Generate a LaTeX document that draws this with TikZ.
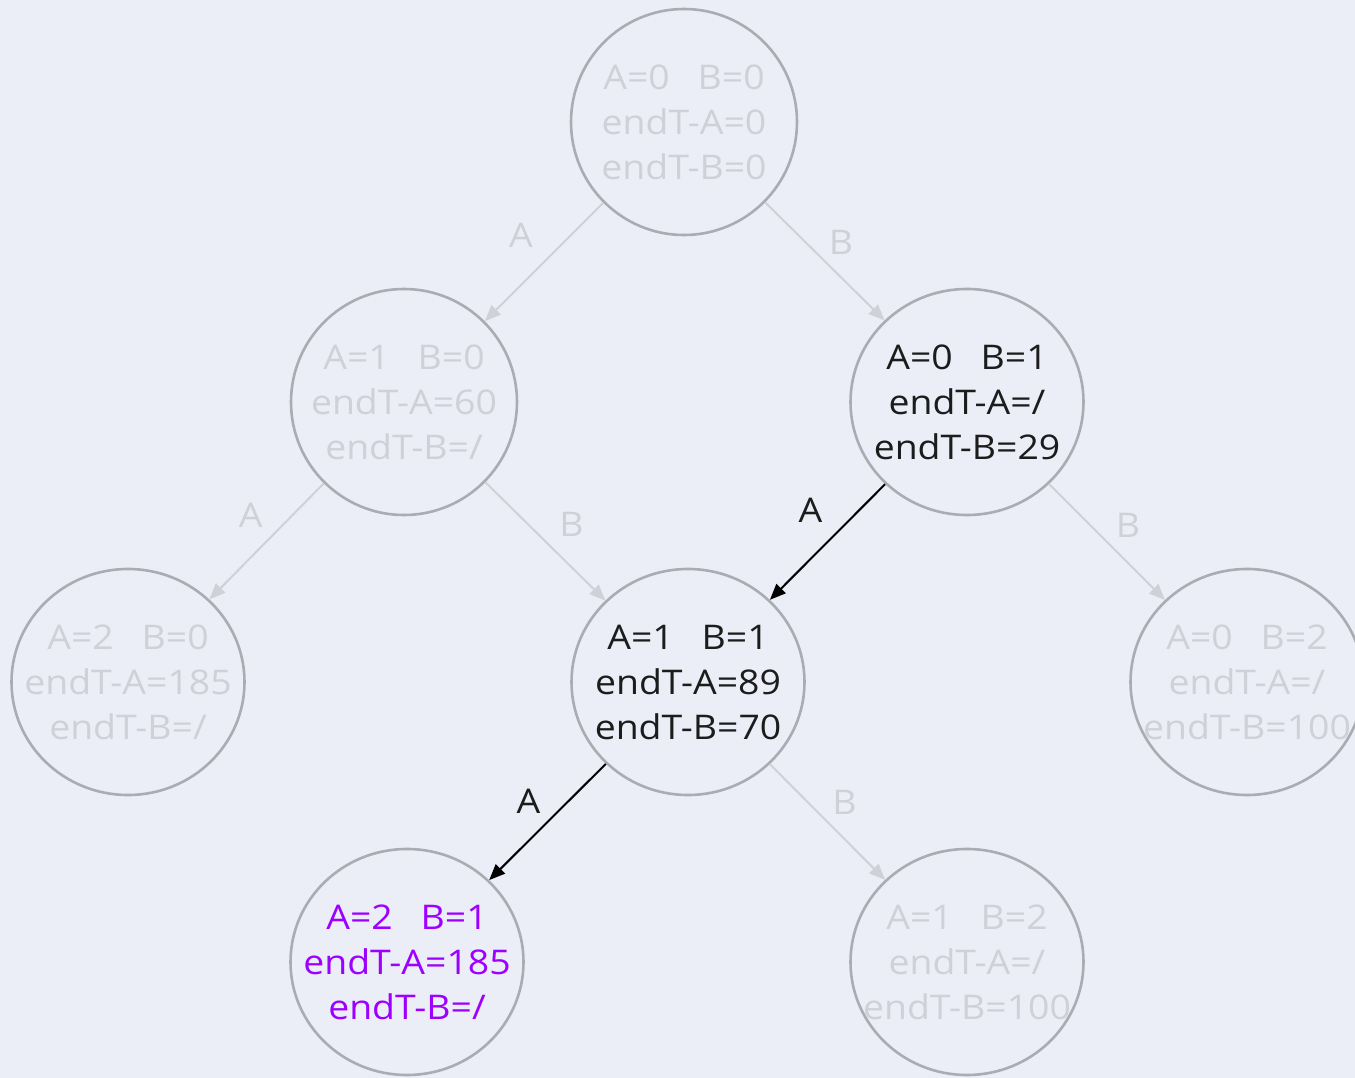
\documentclass[tikz,border=0pt]{standalone}
\usepackage{fontspec}
\setmainfont{Open Sans}[FakeStretch=1.1]
\usetikzlibrary{arrows.meta,shapes.geometric}
\definecolor{bg}{HTML}{EBEEF6}
\definecolor{ring}{HTML}{AAACB4}
\definecolor{faded}{HTML}{D0D1D8}
\definecolor{ink}{HTML}{1C1C1C}
\definecolor{goal}{HTML}{9D00FF}
\newcommand{\gapAB}{\hspace{0.82em}}
\begin{document}
\begin{tikzpicture}[x=1pt,y=-1pt,
  % the ring has a fixed size; its three lines sit in a centred label
  state/.style={ellipse, draw=ring, line width=2.6pt, inner sep=0pt,
    minimum height=226pt, minimum width=#1},
  state/.default=233pt,
  statetext/.style={inner sep=0pt, align=center,
    font=\fontsize{34}{45}\selectfont},
  dim/.style={label={[statetext, text=faded]center:{#1}}},
  live/.style={label={[statetext, text=ink]center:{#1}}},
  found/.style={label={[statetext, text=goal]center:{#1}}},
  fadedge/.style={draw=faded, line width=2pt, -{Triangle[length=16pt,width=13pt]}},
  liveedge/.style={draw=black, line width=2pt, -{Triangle[length=16pt,width=13pt]}},
  lbl/.style={midway, inner sep=0pt, font=\fontsize{34}{40}\selectfont},
]
\fill[bg] (0,0) rectangle (1355,1078);
\useasboundingbox (0,0) rectangle (1355,1078);

% states
\node[state=226pt, dim={A=0\gapAB B=0\\endT-A=0\\endT-B=0}]   (r)  at (684,122) {};
\node[state=226pt, dim={A=1\gapAB B=0\\endT-A=60\\endT-B=/}]  (l1) at (404,402) {};
\node[state, live={A=0\gapAB B=1\\endT-A=/\\endT-B=29}]       (r1) at (967,402) {};
\node[state, dim={A=2\gapAB B=0\\endT-A=185\\endT-B=/}]       (l2) at (128,682) {};
\node[state, live={A=1\gapAB B=1\\endT-A=89\\endT-B=70}]      (m2) at (688,682) {};
\node[state, dim={A=0\gapAB B=2\\endT-A=/\\endT-B=100}]       (r2) at (1247,682) {};
\node[state, found={A=2\gapAB B=1\\endT-A=185\\endT-B=/}]     (l3) at (407,962) {};
\node[state, dim={A=1\gapAB B=2\\endT-A=/\\endT-B=100}]       (r3) at (967,962) {};

% transitions
\draw[fadedge] (r) -- node[lbl, text=faded, xshift=-23pt, yshift=27pt] {A} (l1);
\draw[fadedge] (r) -- node[lbl, text=faded, xshift=16pt, yshift=19pt] {B} (r1);
\draw[fadedge] (l1) -- node[lbl, text=faded, xshift=-16pt, yshift=26pt] {A} (l2);
\draw[fadedge] (l1) -- node[lbl, text=faded, xshift=26pt, yshift=17pt] {B} (m2);
\draw[liveedge] (r1) -- node[lbl, text=ink, xshift=-17pt, yshift=32pt] {A} (m2);
\draw[fadedge] (r1) -- node[lbl, text=faded, xshift=21pt, yshift=17pt] {B} (r2);
\draw[liveedge] (m2) -- node[lbl, text=ink, xshift=-19pt, yshift=21pt] {A} (l3);
\draw[fadedge] (m2) -- node[lbl, text=faded, xshift=17pt, yshift=20pt] {B} (r3);
\end{tikzpicture}
\end{document}
